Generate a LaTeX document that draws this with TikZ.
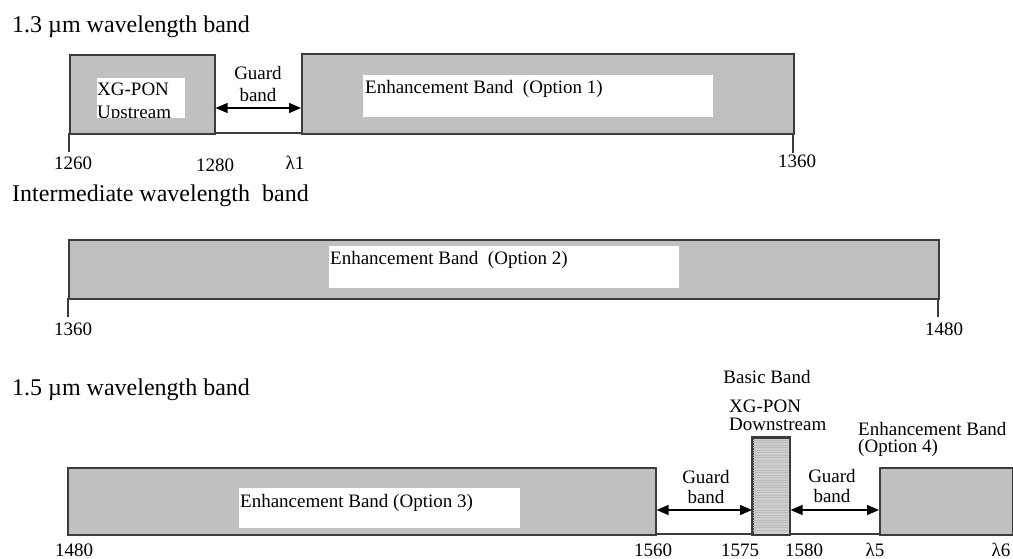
\documentclass[tikz,border=0pt]{standalone}
\usepackage{fontspec}
\setmainfont{Liberation Serif}
\usetikzlibrary{arrows.meta}
\definecolor{bandfill}{RGB}{192,192,192}
\definecolor{bandedge}{RGB}{60,60,60}
\definecolor{basicfill}{RGB}{206,206,206}
\definecolor{basicline}{RGB}{188,188,188}
\tikzset{
  bandbox/.style={draw=bandedge, line width=1.6pt, fill=bandfill, inner sep=0pt, anchor=north west},
  labelbox/.style={fill=white, inner sep=0pt, anchor=north west},
  lbl/.style={inner sep=0pt, font=\fontsize{19}{22}\selectfont},
  title/.style={inner sep=0pt, anchor=base west, font=\fontsize{24}{28}\selectfont},
  tick/.style={inner sep=0pt, anchor=base, font=\fontsize{19}{22}\selectfont},
  guard/.style={line width=1.4pt, {Triangle[length=12pt,width=10pt]}-{Triangle[length=12pt,width=10pt]}},
  axis/.style={draw=bandedge, line width=1.4pt}
}
\begin{document}
\begin{tikzpicture}[x=1pt,y=-1pt]
\useasboundingbox (0,0) rectangle (1013,559);

% ---------- 1.3 um band ----------
\node[title] (t1) at (12,33) {1.3 µm wavelength band};
\draw[axis] (69,133) coordinate (a1l) -- (793,133) coordinate (a1r);
\draw[axis] (a1l) -- (69,152);
\draw[axis] (a1r) -- (793,153);
\node[bandbox, minimum width=145pt, minimum height=79pt] (up) at (69,54) {};
\node[bandbox, minimum width=492pt, minimum height=80pt] (opt1) at (301,53) {};
\node[labelbox, minimum width=88pt, minimum height=40pt] (upw) at (97,78) {};
\begin{scope}
  \clip (97,78) rectangle (185,118);
  \node[lbl, anchor=base west] (uptxt1) at (97,96) {XG-PON};
  \node[lbl, anchor=base west] (uptxt2) at (97,119) {Upstream};
\end{scope}
\node[labelbox, minimum width=350pt, minimum height=42pt] (opt1w) at (363,75) {};
\node[lbl, anchor=base west] (opt1txt) at (365,94) {Enhancement Band\ \ (Option 1)};
\coordinate (g1) at (0,108);
\draw[guard] (up.east |- g1) -- (opt1.west |- g1);
\node[lbl, anchor=base] (g1a) at (258,80) {Guard};
\node[lbl, anchor=base] (g1b) at (258,102) {band};
\node[tick] (n1260) at (73,170) {1260};
\node[tick] (n1280) at (215,172) {1280};
\node[tick] (nl1) at (295,170) {λ1};
\node[tick] (n1360a) at (797,168) {1360};

% ---------- intermediate band ----------
\node[title] (t2) at (12,202) {Intermediate wavelength\ \ band};
\draw[axis] (68,298) -- (68,317);
\draw[axis] (938,298) -- (938,317);
\node[bandbox, minimum width=870pt, minimum height=59pt] (opt2) at (68,239) {};
\node[labelbox, minimum width=350pt, minimum height=42pt] (opt2w) at (329,246) {};
\node[lbl, anchor=base west] (opt2txt) at (330,264) {Enhancement Band\ \ (Option 2)};
\node[tick] (n1360b) at (73,335) {1360};
\node[tick] (n1480a) at (944,335) {1480};

% ---------- 1.5 um band ----------
\node[title] (t3) at (12,395) {1.5 µm wavelength band};
\draw[axis] (67,534) -- (1012,534);
\node[bandbox, minimum width=588pt, minimum height=67pt] (opt3) at (67,467) {};
\node[labelbox, minimum width=281pt, minimum height=40pt] (opt3w) at (239,488) {};
\node[lbl, anchor=base west] (opt3txt) at (240,507) {Enhancement Band (Option 3)};
\node[bandbox, fill=basicfill, minimum width=37pt, minimum height=97pt] (basic) at (752,437) {};
\foreach \yy in {440,442.5,...,532} {
  \draw[basicline, line width=0.5pt] (753.2,\yy) -- (787.8,\yy);
}
\draw[bandedge, line width=1.6pt] (basic.north west) rectangle (basic.south east);
\node[bandbox, minimum width=133pt, minimum height=67pt] (opt4) at (879,467) {};
\coordinate (g3) at (0,510);
\draw[guard] (opt3.east |- g3) -- (basic.west |- g3);
\draw[guard] (basic.east |- g3) -- (opt4.west |- g3);
\node[lbl, anchor=base] (g2a) at (706,483) {Guard};
\node[lbl, anchor=base] (g2b) at (706,503) {band};
\node[lbl, anchor=base] (g3a) at (832,482) {Guard};
\node[lbl, anchor=base] (g3b) at (832,502) {band};
\node[lbl, anchor=base] (basictxt) at (767,383) {Basic Band};
\node[lbl, anchor=base west] (xgd1) at (729,412) {XG-PON};
\node[lbl, anchor=base west] (xgd2) at (729,430) {Downstream};
\node[lbl, anchor=base west] (opt4a) at (858,435) {Enhancement Band};
\node[lbl, anchor=base west] (opt4b) at (858,452) {(Option 4)};
\node[tick] (n1480b) at (74,556) {1480};
\node[tick] (n1560) at (653,556) {1560};
\node[tick] (n1575) at (740,556) {1575};
\node[tick] (n1580) at (804,556) {1580};
\node[tick] (nl5) at (875,556) {λ5};
\node[tick] (nl6) at (1001,556) {λ6};
\end{tikzpicture}
\end{document}
